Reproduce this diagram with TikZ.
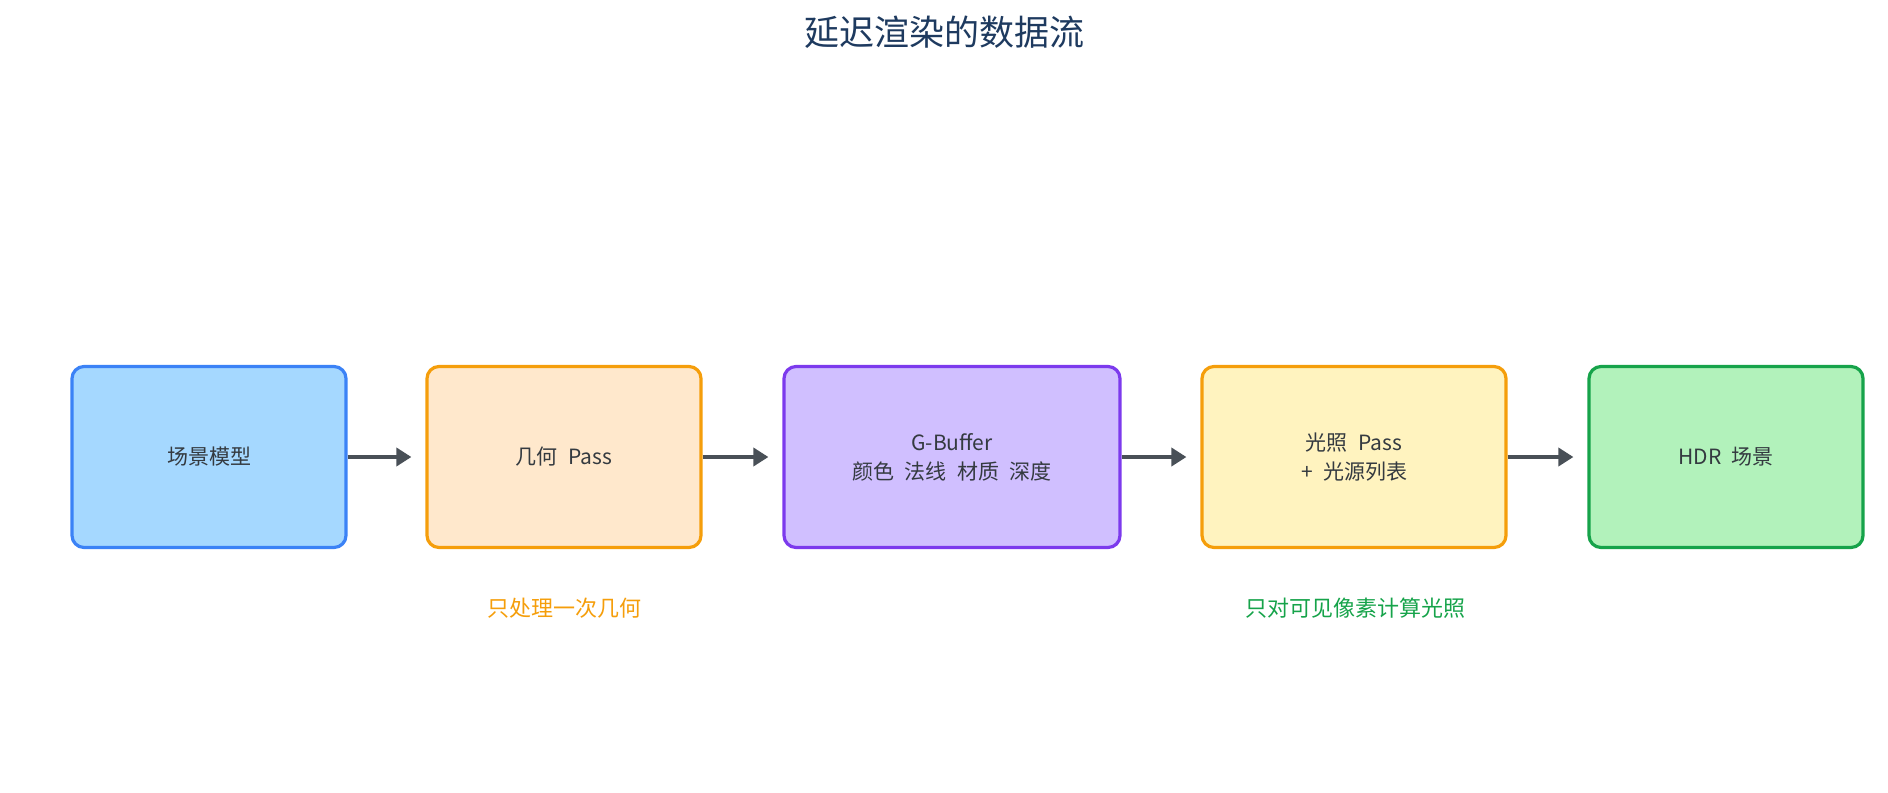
\documentclass[tikz,border=0pt]{standalone}
\usepackage{fontspec}
\setmainfont{Noto Sans CJK SC}
\newfontfamily\boxfont[WordSpace=2.2]{Noto Sans CJK SC}
\usetikzlibrary{arrows.meta}
\definecolor{titleblue}{HTML}{1E3A5F}
\definecolor{textgray}{HTML}{343A40}
\definecolor{arrowgray}{HTML}{495057}
\definecolor{blueline}{HTML}{3B82F6}
\definecolor{bluefill}{HTML}{A5D8FF}
\definecolor{orangeline}{HTML}{F59E0B}
\definecolor{orangefill}{HTML}{FFE8CC}
\definecolor{purpleline}{HTML}{7C3AED}
\definecolor{purplefill}{HTML}{D0BFFF}
\definecolor{yellowfill}{HTML}{FFF3BF}
\definecolor{greenline}{HTML}{16A34A}
\definecolor{greenfill}{HTML}{B2F2BB}
\begin{document}
\begin{tikzpicture}[x=0.5pt,y=-0.5pt,
    stage/.style={draw,line width=1.6pt,rounded corners=6pt,minimum height=90.5pt,
      align=center,text=textgray,font=\boxfont\fontsize{10.5}{14.5}\selectfont},
    arr/.style={-{Triangle[length=7.5pt,width=9pt]},line width=1.8pt,arrowgray,shorten >=7pt},
    note/.style={font=\fontsize{11}{14}\selectfont}]
    \useasboundingbox (0,0) rectangle (1888,792);
    \node[text=titleblue,font=\fontsize{17.5}{20}\selectfont] (title) at (944,32) {延迟渲染的数据流};
    % pipeline
    \node[stage,draw=blueline,fill=bluefill,minimum width=137pt] (scene) at (209,457) {场景模型};
    \node[stage,draw=orangeline,fill=orangefill,minimum width=137pt] (geom) at (564,457) {几何 Pass};
    \node[stage,draw=purpleline,fill=purplefill,minimum width=168pt] (gbuf) at (952,457) {G-Buffer\\颜色 法线 材质 深度};
    \node[stage,draw=orangeline,fill=yellowfill,minimum width=152pt] (light) at (1354,457) {光照 Pass\\+ 光源列表};
    \node[stage,draw=greenline,fill=greenfill,minimum width=137pt] (hdr) at (1726,457) {HDR 场景};
    \draw[arr] (scene) -- (geom);
    \draw[arr] (geom) -- (gbuf);
    \draw[arr] (gbuf) -- (light);
    \draw[arr] (light) -- (hdr);
    % notes
    \node[note,text=orangeline] (geomnote) at (564,608) {只处理一次几何};
    \node[note,text=greenline] (lightnote) at (1355,608) {只对可见像素计算光照};
\end{tikzpicture}
\end{document}
